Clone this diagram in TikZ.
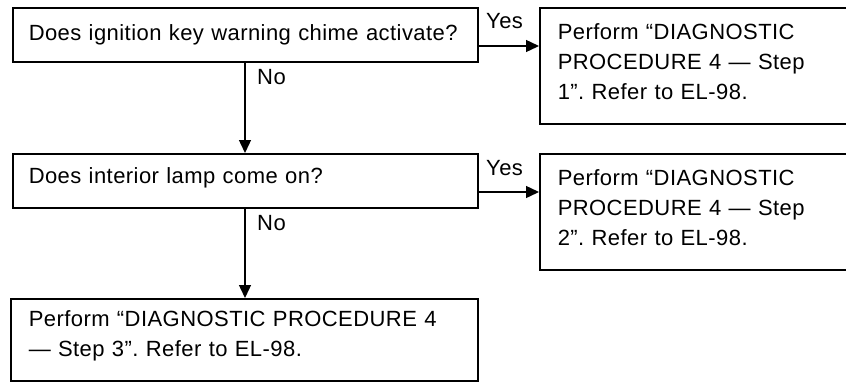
\documentclass[tikz,border=0pt]{standalone}
\usepackage{fontspec}
\setmainfont{Liberation Sans}[LetterSpace=2]
\usetikzlibrary{arrows.meta}
\frenchspacing

% invisible strut that deepens the last line of a box's text
\newcommand{\padbelow}[1]{\rule[-#1]{0pt}{#1}}

\begin{document}
\begin{tikzpicture}[x=1pt,y=-1pt,
  every node/.style={font=\fontsize{22}{30}\selectfont},
  box/.style={draw, line width=1.5pt, rectangle, anchor=north west,
    align=left, inner ysep=0pt},
  qbox/.style={box, minimum height=54pt, inner xsep=16pt, text width=#1},
  abox/.style={box, minimum height=116pt, inner xsep=18pt, text width=294pt,
    minimum width=330pt},
  flow/.style={line width=1.4pt, -{Triangle[length=13pt,width=12pt]}},
  lbl/.style={inner sep=0pt, anchor=west}]

\useasboundingbox (0,0) rectangle (846,383);

% questions
\node[qbox=433pt] (q1) at (12,7)
  {\mbox{Does ignition key warning chime activate?}};
\node[qbox=433pt] (q2) at (12,153)
  {Does interior lamp come on?\padbelow{10pt}};

% outcomes
\node[abox] (a1) at (539,7)
  {Perform “DIAGNOSTIC\\PROCEDURE 4 — Step\\1”. Refer to EL-98.\padbelow{8pt}};
\node[abox] (a2) at (539,153)
  {Perform “DIAGNOSTIC\\PROCEDURE 4 — Step\\2”. Refer to EL-98.\padbelow{8pt}};
\node[box, inner xsep=18pt, text width=431pt, minimum height=82pt] (a3) at (10,298)
  {\mbox{Perform “DIAGNOSTIC PROCEDURE 4}\\— Step 3”. Refer to EL-98.\padbelow{12pt}};

% connector guides
\coordinate (down) at (245,0);
\coordinate (yes1) at (0,46);
\coordinate (yes2) at (0,192);

% connectors
\draw[flow] (q1.south -| down) -- (q2.north -| down);
\draw[flow] (q2.south -| down) -- (a3.north -| down);
\draw[flow] (q1.east |- yes1) -- (a1.west |- yes1);
\draw[flow] (q2.east |- yes2) -- (a2.west |- yes2);

% branch labels
\node[lbl] (yesA) at (486,21) {Yes};
\node[lbl] (yesB) at (486,168) {Yes};
\node[lbl] (noA) at (257,77) {No};
\node[lbl] (noB) at (257,223) {No};
\end{tikzpicture}
\end{document}
